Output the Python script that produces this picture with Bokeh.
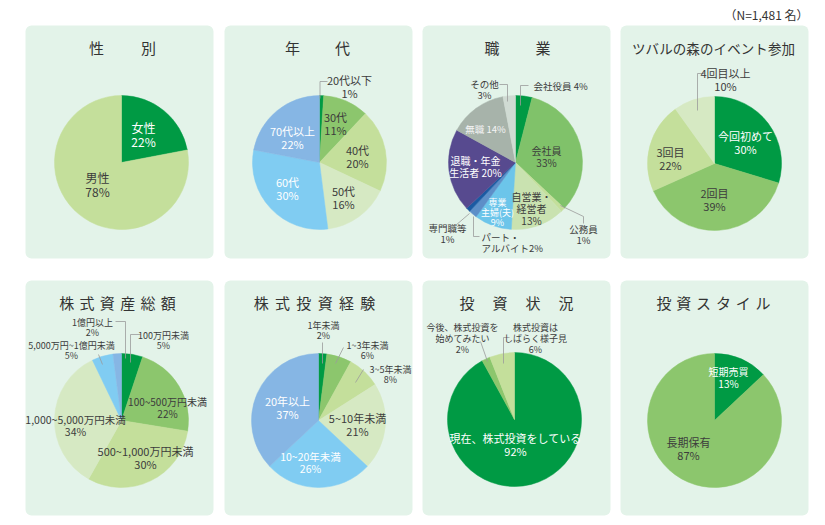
import math
from bokeh.plotting import figure
from bokeh.models import Range1d
from bokeh.core.properties import value
from bokeh.embed import file_html
from bokeh.resources import INLINE

# ---------------- data ----------------
gender_labels = ["女性", "男性"]
gender_values = [22, 78]

age_labels = ["20代以下", "30代", "40代", "50代", "60代", "70代以上"]
age_values = [1, 11, 20, 16, 30, 22]

job_labels = ["会社役員", "会社員", "公務員", "自営業・経営者", "専業主婦(夫)",
              "パート・アルバイト", "専門職等", "退職・年金生活者", "無職", "その他"]
job_values = [4, 33, 1, 13, 9, 2, 1, 20, 14, 3]

event_labels = ["今回初めて", "2回目", "3回目", "4回目以上"]
event_values = [30, 39, 22, 10]

asset_labels = ["100万円未満", "100~500万円未満", "500~1,000万円未満",
                "1,000~5,000万円未満", "5,000万円~1億円未満", "1億円以上"]
asset_values = [5, 22, 30, 34, 5, 2]

exp_labels = ["1年未満", "1~3年未満", "3~5年未満", "5~10年未満", "10~20年未満", "20年以上"]
exp_values = [2, 6, 8, 21, 26, 37]

status_labels = ["現在、株式投資をしている", "今後、株式投資を始めてみたい", "株式投資はしばらく様子見"]
status_values = [92, 2, 6]

style_labels = ["短期売買", "長期保有"]
style_values = [13, 87]

titles = ["性別", "年代", "職業", "ツバルの森のイベント参加",
          "株式資産総額", "株式投資経験", "投資状況", "投資スタイル"]
note = "（N=1,481 名）"

# ---------------- styles ----------------
FONT = "Noto Sans CJK JP"
DG = "#009a44"
MG = "#8cc66d"
LG = "#c4df9b"
XLG = "#d6e9c3"
LB = "#80ccf2"
MB = "#86b6e4"
DARK = "#3c3c3c"
WHITE = "#ffffff"
PANEL = "#e3f3e9"
LEAD = "#9a9a9a"

W, H = 825, 525
p = figure(width=W, height=H, x_range=Range1d(0, W), y_range=Range1d(0, H),
           output_backend="svg", toolbar_location=None,
           x_axis_type=None, y_axis_type=None, min_border=0)
p.outline_line_color = None
p.grid.visible = False
p.background_fill_color = "white"
p.border_fill_color = "white"


def Y(y):
    return H - y


# panels
lefts = [25, 224, 422, 620]
rows = [(25, 258), (280, 515)]
pw = 188
for ri, (t, b) in enumerate(rows):
    for ci, l in enumerate(lefts):
        p.quad(left=l, right=l + pw, top=Y(t), bottom=Y(b), fill_color=PANEL,
               line_color=None, border_radius=6)

R = 67


def pie(vals, colors, cx, cy):
    tot = float(sum(vals))
    c0 = 0.0
    starts, ends = [], []
    for v in vals:
        c1 = c0 + v / tot
        starts.append(math.pi / 2 - 2 * math.pi * c1)
        ends.append(math.pi / 2 - 2 * math.pi * c0)
        c0 = c1
    p.wedge(x=[cx] * len(vals), y=[Y(cy)] * len(vals), radius=R,
            start_angle=starts, end_angle=ends, direction="anticlock",
            fill_color=colors, line_color=colors, line_width=0.5)


def label(txt, x, y, color=DARK, size=11, align="center", lh=0.78):
    p.text(x=[x], y=[Y(y)], text=[txt], text_font=value(FONT),
           text_font_size=f"{size}px", text_color=color, text_align=align,
           text_baseline="middle", text_line_height=lh)


def lead(pts):
    p.line(x=[a for a, _ in pts], y=[Y(b) for _, b in pts], line_color=LEAD, line_width=0.8)


def pct(v):
    return f"{v}%"


# titles, drawn character by character with the reference letter-spacing
title_y = [47, 302]
title_center = [122, 317, 517, 713, 117, 314, 516, 713]
title_pitch = [52, 50, 51, 13.6, 20.3, 21.3, 33, 19.8]
title_size = [15, 15, 15, 13.5, 15, 15, 15, 15]
for i, tt in enumerate(titles):
    ri, ci = divmod(i, 4)
    n = len(tt)
    xs = [title_center[i] + (k - (n - 1) / 2) * title_pitch[i] for k in range(n)]
    p.text(x=xs, y=[Y(title_y[ri])] * n, text=list(tt), text_font=value(FONT),
           text_font_size=f"{title_size[i]}px", text_color="#333333", text_align="center",
           text_baseline="middle")

p.text(x=[808], y=[Y(14)], text=[note], text_font=value(FONT), text_font_size="12px",
       text_color="#333333", text_align="right", text_baseline="middle")

# ---- 1 gender
cx, cy = 121, 162
pie(gender_values, [DG, LG], cx, cy)
label(f"{gender_labels[0]}\n{pct(gender_values[0])}", 143, 134, WHITE, 12, lh=0.85)
label(f"{gender_labels[1]}\n{pct(gender_values[1])}", 97, 184, DARK, 12, lh=0.85)

# ---- 2 age
cx, cy = 319, 162
pie(age_values, [DG, MG, LG, XLG, LB, MB], cx, cy)
lead([(319.5, 98), (319.5, 81), (327, 81)])
age_pos = [(349, 86, DARK), (335, 123, DARK), (357, 156, DARK), (343, 197, DARK),
           (287, 188, WHITE), (292, 137, WHITE)]
for lb, v, (x, y, c) in zip(age_labels, age_values, age_pos):
    label(f"{lb}\n{pct(v)}", x, y, c, 11)

# ---- 3 job
cx, cy = 515, 162
pie(job_values, [DG, "#80c26a", "#c4df9b", "#c9e2b0", "#6cc5ea", "#5d8fc8",
                 "#1b5aa3", "#574a8f", "#a7b3aa", "#d0dbd3"], cx, cy)
lead([(520, 105), (520, 85), (528, 85)])
lead([(499, 84), (507, 84), (507, 101)])
lead([(560, 205), (583, 216), (583, 223)])
lead([(473, 216), (473, 236), (479, 236)])
lead([(469, 213), (455, 225)])
label(f"{job_labels[0]} {pct(job_values[0])}", 533, 85, DARK, 9.5, "left")
label(f"{job_labels[1]}\n{pct(job_values[1])}", 546, 156, DARK, 10)
label(f"{job_labels[2]}\n{pct(job_values[2])}", 583, 234, DARK, 9.5)
label(f"自営業・\n経営者\n{pct(job_values[3])}", 531, 208, DARK, 10)
label(f"専業\n主婦(夫)\n{pct(job_values[4])}", 497, 212, WHITE, 9)
label(f"パート・\nアルバイト{pct(job_values[5])}", 481, 242, DARK, 9.5, "left")
label(f"{job_labels[6]}\n{pct(job_values[6])}", 447, 233, DARK, 9.5)
label(f"退職・年金\n生活者 {pct(job_values[7])}", 475, 166, WHITE, 10)
label(f"{job_labels[8]} {pct(job_values[8])}", 485, 128, "#f4f4f4", 9.5)
label(f"{job_labels[9]}\n{pct(job_values[9])}", 484, 89, DARK, 9.5)

# ---- 4 event
cx, cy = 714, 163
pie(event_values, [DG, MG, LG, XLG], cx, cy)
lead([(697, 110), (697, 73), (704, 73)])
ev_pos = [(745, 142, WHITE), (714, 199, DARK), (670, 158, DARK), (725, 79, DARK)]
for lb, v, (x, y, c) in zip(event_labels, event_values, ev_pos):
    label(f"{lb}\n{pct(v)}", x, y, c, 11)

# ---- 5 asset
cx, cy = 121, 420
pie(asset_values, [DG, MG, LG, XLG, LB, MB], cx, cy)
lead([(115, 321), (125, 321), (125, 358)])
lead([(140, 334), (130, 334), (130, 362)])
lead([(98, 354), (102, 364)])
as_pos = [(163, 340, DARK, 9), (167, 407, DARK, 10), (145, 457, DARK, 11),
          (75, 425, DARK, 10.5), (71, 350, DARK, 9), (92, 327, DARK, 9)]
for lb, v, (x, y, c, s) in zip(asset_labels, asset_values, as_pos):
    label(f"{lb}\n{pct(v)}", x, y, c, s, lh=0.8)

# ---- 6 experience
cx, cy = 318, 420
pie(exp_values, [DG, MG, LG, XLG, LB, MB], cx, cy)
lead([(322, 342), (322, 363)])
lead([(343, 347), (335, 363)])
lead([(363, 369), (355, 382)])
ex_pos = [(323, 330, DARK, 9), (367, 350, DARK, 9), (390, 374, DARK, 9),
          (357, 424, DARK, 11), (310, 462, WHITE, 10.5), (287, 407, WHITE, 11)]
for lb, v, (x, y, c, s) in zip(exp_labels, exp_values, ex_pos):
    label(f"{lb}\n{pct(v)}", x, y, c, s, lh=0.8)

# ---- 7 status
cx, cy = 514, 419
pie(status_values, [DG, MG, LG], cx, cy)
lead([(480, 341), (487, 361)])
lead([(509, 337), (503, 337), (503, 363)])
label(f"{status_labels[0]}\n{pct(status_values[0])}", 515, 444, WHITE, 11)
label(f"今後、株式投資を\n始めてみたい\n{pct(status_values[1])}", 462, 338, DARK, 9, lh=0.82)
label(f"株式投資は\nしばらく様子見\n{pct(status_values[2])}", 535, 338, DARK, 9, lh=0.82)

# ---- 8 style
cx, cy = 714, 420
pie(style_values, [DG, MG], cx, cy)
label(f"{style_labels[0]}\n{pct(style_values[0])}", 728, 377, WHITE, 10)
label(f"{style_labels[1]}\n{pct(style_values[1])}", 688, 448, DARK, 11)

open("out.html", "w").write(file_html(p, INLINE))
